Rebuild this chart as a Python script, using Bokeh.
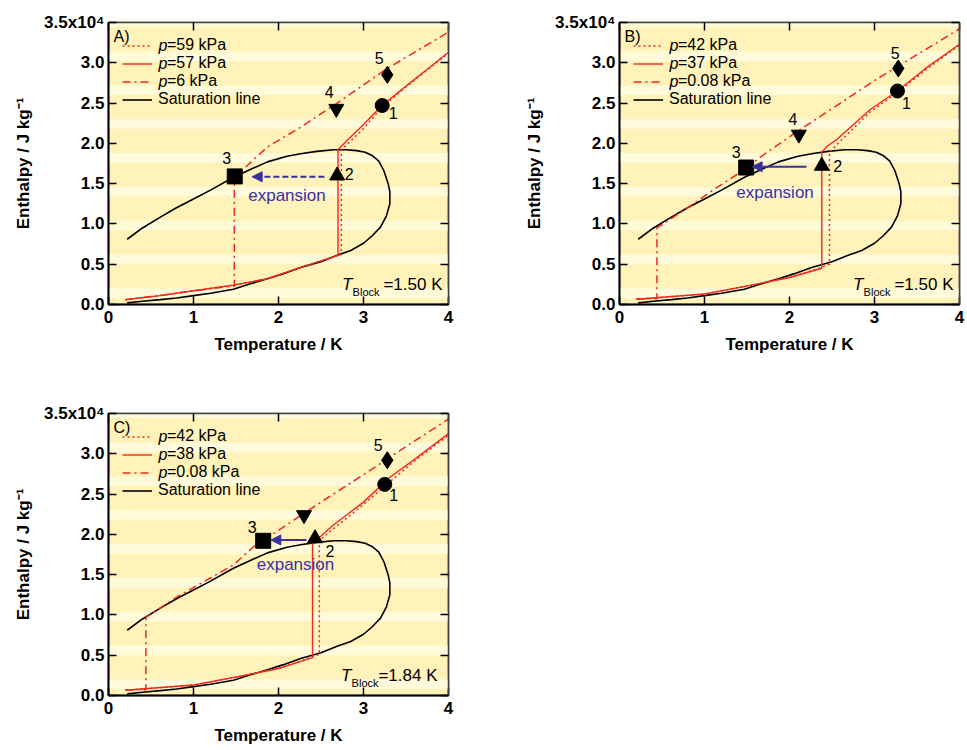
import numpy as np
from bokeh.plotting import figure
from bokeh.models import (Range1d, LinearAxis, FixedTicker, PrintfTickFormatter, Legend,
                          LegendItem, Label, Arrow, NormalHead, BoxAnnotation,
                          CustomLabelingPolicy)
from bokeh.layouts import row, column
from bokeh.embed import file_html
from bokeh.resources import INLINE
from bokeh.core.properties import value

# ---------------- data ----------------
x_ticks = [0, 1, 2, 3, 4]
y_ticks = [0.0, 0.5, 1.0, 1.5, 2.0, 2.5, 3.0, 3.5]
y_top_label = "3.5x10⁴"
x_title = "Temperature / K"
y_title = "Enthalpy / J kg⁻¹"

# saturation dome (enthalpy in 1e4 J/kg)
sat_T = [0.22, 0.40, 0.61, 0.80, 1.00, 1.20, 1.47, 1.70, 1.87, 2.10, 2.26, 2.45, 2.65, 2.80,
         2.92, 3.02, 3.10, 3.18, 3.24, 3.29, 3.31, 3.31, 3.27, 3.20, 3.10, 3.00, 2.85, 2.69,
         2.50, 2.26, 2.05, 1.87, 1.65, 1.47, 1.20, 1.00, 0.80, 0.61, 0.40, 0.22]
sat_h = [0.81, 0.95, 1.085, 1.20, 1.31, 1.42, 1.58, 1.69, 1.77, 1.84, 1.87, 1.90, 1.92, 1.92,
         1.91, 1.89, 1.85, 1.78, 1.66, 1.50, 1.40, 1.25, 1.10, 0.96, 0.85, 0.76, 0.67, 0.61,
         0.53, 0.46, 0.38, 0.32, 0.25, 0.19, 0.14, 0.11, 0.08, 0.06, 0.04, 0.02]

# Panel A
A_name = "A)"
A_legend = ["=59 kPa", "=57 kPa", "=6 kPa"]
A_hi_T = [0.2, 0.6, 1.0, 1.47, 1.87, 2.26, 2.74, 2.74, 2.84, 2.98, 3.22, 3.5, 3.75, 4.0]
A_hi_h = [0.06, 0.11, 0.17, 0.24, 0.32, 0.46, 0.62, 1.92, 2.02, 2.16, 2.45, 2.70, 2.91, 3.12]
A_mid_T = [0.2, 0.6, 1.0, 1.47, 1.87, 2.26, 2.70, 2.70, 2.80, 2.95, 3.22, 3.5, 3.75, 4.0]
A_mid_h = [0.06, 0.11, 0.17, 0.24, 0.32, 0.46, 0.61, 1.92, 2.03, 2.18, 2.47, 2.71, 2.92, 3.13]
A_lo_T = [0.2, 0.6, 1.0, 1.48, 1.48, 1.55, 1.87, 2.26, 2.69, 3.28, 4.0]
A_lo_h = [0.06, 0.11, 0.17, 0.23, 1.59, 1.645, 1.955, 2.20, 2.50, 2.93, 3.38]
A_pts_T = [3.22, 2.69, 1.485, 2.68, 3.28]
A_pts_h = [2.47, 1.60, 1.59, 2.43, 2.85]
A_pt_labels = ["1", "2", "3", "4", "5"]
A_arrow = [2.54, 1.69, 1.585]
A_block = "=1.50 K"

# Panel B
B_name = "B)"
B_legend = ["=42 kPa", "=37 kPa", "=0.08 kPa"]
B_hi_T = [0.2, 1.0, 1.6, 2.0, 2.32, 2.47, 2.47, 2.6, 2.95, 3.27, 3.6, 4.0]
B_hi_h = [0.066, 0.13, 0.25, 0.335, 0.44, 0.50, 1.89, 2.03, 2.39, 2.63, 2.91, 3.22]
B_mid_T = [0.2, 1.0, 1.6, 2.0, 2.38, 2.38, 2.45, 2.56, 2.95, 3.27, 3.6, 4.0]
B_mid_h = [0.066, 0.13, 0.25, 0.335, 0.45, 1.89, 1.97, 2.05, 2.42, 2.65, 2.93, 3.23]
B_lo_T = [0.2, 0.44, 0.44, 0.83, 1.10, 1.42, 1.75, 2.11, 2.60, 3.00, 3.50, 4.0]
B_lo_h = [0.07, 0.07, 0.95, 1.22, 1.42, 1.64, 1.90, 2.16, 2.50, 2.78, 3.10, 3.42]
B_pts_T = [3.27, 2.38, 1.49, 2.11, 3.28]
B_pts_h = [2.65, 1.72, 1.70, 2.11, 2.93]
B_pt_labels = ["1", "2", "3", "4", "5"]
B_arrow = [2.20, 1.56, 1.71]
B_block = "=1.50 K"

# Panel C
C_name = "C)"
C_legend = ["=42 kPa", "=38 kPa", "=0.08 kPa"]
C_hi_T = [0.2, 1.0, 1.6, 2.0, 2.32, 2.48, 2.48, 2.6, 3.0, 3.25, 3.6, 4.0]
C_hi_h = [0.066, 0.13, 0.25, 0.335, 0.45, 0.51, 1.92, 2.03, 2.37, 2.60, 2.91, 3.23]
C_mid_T = [0.2, 1.0, 1.6, 2.0, 2.40, 2.40, 2.50, 2.65, 3.00, 3.30, 3.60, 4.0]
C_mid_h = [0.066, 0.13, 0.25, 0.335, 0.47, 1.90, 1.98, 2.12, 2.40, 2.70, 2.93, 3.25]
C_lo_T = [0.2, 0.44, 0.44, 0.80, 1.10, 1.47, 1.71, 2.00, 2.50, 3.00, 3.50, 4.0]
C_lo_h = [0.07, 0.07, 0.97, 1.22, 1.40, 1.62, 1.85, 2.05, 2.40, 2.74, 3.09, 3.43]
C_pts_T = [3.25, 2.43, 1.82, 2.30, 3.28]
C_pts_h = [2.62, 1.95, 1.92, 2.24, 2.92]
C_pt_labels = ["1", "2", "3", "", "5"]
C_arrow = [2.33, 1.91, 1.93]
C_block = "=1.84 K"

# ---------------- style ----------------
FONT = "Liberation Sans"
RED = "#EE2A1E"
BLUE = "#3A30A0"
BASE = "#FFF3BA"
LIGHT = "#FFFAD9"
MARKERS = ["circle", "triangle", "square", "inverted_triangle", "diamond"]
MSIZES = [14, 15, 15, 15, 17]
FH = 282
LEG_M = 14
LEG_PITCH = 18
LEG_FS = 16


def make_panel(name, legend_labels, hi, mid, lo, pts_T, pts_h, pt_labels, lbl_dx, lbl_dy,
               arrow, arrow_dash, exp_xy, block, block_right, block_gap,
               fw, left, right, top, bottom):
    p = figure(frame_width=fw, frame_height=FH, x_range=Range1d(0, 4), y_range=Range1d(0, 3.5),
               output_backend="svg", toolbar_location=None,
               min_border_left=left, min_border_right=right, min_border_top=top,
               min_border_bottom=bottom, background_fill_color=BASE,
               border_fill_color="white", outline_line_color="#444444", outline_line_width=1.5)
    p.grid.visible = False

    # background bands
    for b in np.arange(0.08, 3.45, 0.42):
        p.add_layout(BoxAnnotation(bottom=b, top=b + 0.12, fill_color=LIGHT, fill_alpha=1.0,
                                   line_color=None, level="underlay"))

    # axes
    for ax in (p.xaxis[0], p.yaxis[0]):
        ax.major_tick_in = 8
        ax.major_tick_out = 0
        ax.minor_tick_in = 0
        ax.minor_tick_out = 0
        ax.axis_line_width = 2
        ax.axis_line_color = "black"
        ax.major_tick_line_width = 1.5
        ax.major_label_text_font = FONT
        ax.major_label_text_font_style = "bold"
        ax.major_label_text_font_size = "17px"
        ax.major_label_text_color = "black"
        ax.axis_label_text_font = FONT
        ax.axis_label_text_font_style = "bold"
        ax.axis_label_text_font_size = "17px"
        ax.axis_label_text_color = "black"
    p.xaxis.ticker = FixedTicker(ticks=x_ticks)
    p.yaxis.ticker = FixedTicker(ticks=y_ticks)
    p.yaxis.formatter = PrintfTickFormatter(format="%.1f")
    p.yaxis.major_label_overrides = {3.5: y_top_label}
    p.xaxis.axis_label = x_title
    p.yaxis.axis_label = y_title
    p.xaxis.major_label_standoff = 6
    p.xaxis.axis_label_standoff = 9
    p.yaxis.major_label_standoff = 4
    p.yaxis.axis_label_standoff = 8

    for side, tk in (("above", x_ticks), ("right", y_ticks)):
        ax = LinearAxis(ticker=FixedTicker(ticks=tk), major_tick_in=8, major_tick_out=0,
                        minor_tick_in=0, minor_tick_out=0,
                        major_label_policy=CustomLabelingPolicy(code="return new Set()"),
                        major_label_standoff=0, axis_line_color="#444444", axis_line_width=1.5,
                        major_tick_line_width=1.5)
        p.add_layout(ax, side)

    # curves
    r_sat = p.line(sat_T, sat_h, line_color="black", line_width=1.6)
    r_hi = p.line(hi[0], hi[1], line_color=RED, line_width=1.5, line_dash="2 3")
    r_mid = p.line(mid[0], mid[1], line_color=RED, line_width=1.4)
    r_lo = p.line(lo[0], lo[1], line_color=RED, line_width=1.5, line_dash="8 4 2 4")

    # state points
    p.scatter(pts_T, pts_h, marker=MARKERS, size=MSIZES, fill_color="black", line_color="black")
    p.text(pts_T, pts_h, text=pt_labels, x_offset=lbl_dx, y_offset=lbl_dy,
           text_font=value(FONT), text_font_size=value("16px"), text_color="black",
           text_align="center", text_baseline="middle")

    # expansion arrow
    p.add_layout(Arrow(end=NormalHead(size=10, fill_color=BLUE, line_color=BLUE),
                       x_start=arrow[0], y_start=arrow[2], x_end=arrow[1], y_end=arrow[2],
                       line_color=BLUE, line_width=2, line_dash=arrow_dash))
    p.add_layout(Label(x=exp_xy[0], y=exp_xy[1], text="expansion", text_font=FONT,
                       text_font_size="17px", text_color=BLUE, text_align="center",
                       text_baseline="middle"))

    # legend
    items = [LegendItem(label="\u00a0\u00a0" + legend_labels[0], renderers=[r_hi]),
             LegendItem(label="\u00a0\u00a0" + legend_labels[1], renderers=[r_mid]),
             LegendItem(label="\u00a0\u00a0" + legend_labels[2], renderers=[r_lo]),
             LegendItem(label="Saturation line", renderers=[r_sat])]
    leg = Legend(items=items, location="top_left", margin=LEG_M, padding=0, glyph_width=30,
                 glyph_height=17, label_height=17, label_standoff=6, spacing=0,
                 background_fill_alpha=0, border_line_color=None, label_text_font=FONT,
                 label_text_font_size=f"{LEG_FS}px", label_text_color="black")
    p.add_layout(leg)
    for i in range(3):
        p.add_layout(Label(x=LEG_M + 36, y=FH - (LEG_M + 9 + i * LEG_PITCH),
                           x_units="screen", y_units="screen",
                           text="p", text_font=FONT, text_font_style="italic",
                           text_font_size=f"{LEG_FS}px", text_baseline="middle",
                           text_color="black"))

    # panel name
    p.add_layout(Label(x=5, y=FH - 5, x_units="screen", y_units="screen", text=name,
                       text_font=FONT, text_font_size="16px", text_baseline="top",
                       text_color="black"))

    # T_Block annotation
    xr = fw - block_right
    p.add_layout(Label(x=xr, y=20, x_units="screen", y_units="screen", text=block,
                       text_font=FONT, text_font_size="17px", text_align="right",
                       text_baseline="middle", text_color="black"))
    xb = xr - 59 - block_gap
    p.add_layout(Label(x=xb, y=13, x_units="screen", y_units="screen", text="Block",
                       text_font=FONT, text_font_size="11px", text_align="right",
                       text_baseline="middle", text_color="black"))
    p.add_layout(Label(x=xb - 27, y=20, x_units="screen", y_units="screen", text="T",
                       text_font=FONT, text_font_style="italic", text_font_size="17px",
                       text_align="right", text_baseline="middle", text_color="black"))
    return p


pA = make_panel(A_name, A_legend, (A_hi_T, A_hi_h), (A_mid_T, A_mid_h), (A_lo_T, A_lo_h),
                A_pts_T, A_pts_h, A_pt_labels, [11, 12, -8, -7, -8], [8, -2, -18, -17, -17],
                A_arrow, "6 3", (2.10, 1.35), A_block, 6, 4,
                340, 108, 63, 22, 87)
pB = make_panel(B_name, B_legend, (B_hi_T, B_hi_h), (B_mid_T, B_mid_h), (B_lo_T, B_lo_h),
                B_pts_T, B_pts_h, B_pt_labels, [9, 16, -10, -6, -3], [12, 0, -16, -15, -15],
                B_arrow, "solid", (1.83, 1.39), B_block, 6, 4,
                340, 108, 6, 20, 89)
pC = make_panel(C_name, C_legend, (C_hi_T, C_hi_h), (C_mid_T, C_mid_h), (C_lo_T, C_lo_h),
                C_pts_T, C_pts_h, C_pt_labels, [9, 15, -11, 0, -9], [11, 13, -14, 0, -15],
                C_arrow, "solid", (2.20, 1.62), C_block, 11, 0,
                340, 108, 63, 22, 54)

layout = column(row(pA, pB), pC)
open("out.html", "w").write(file_html(layout, INLINE))
